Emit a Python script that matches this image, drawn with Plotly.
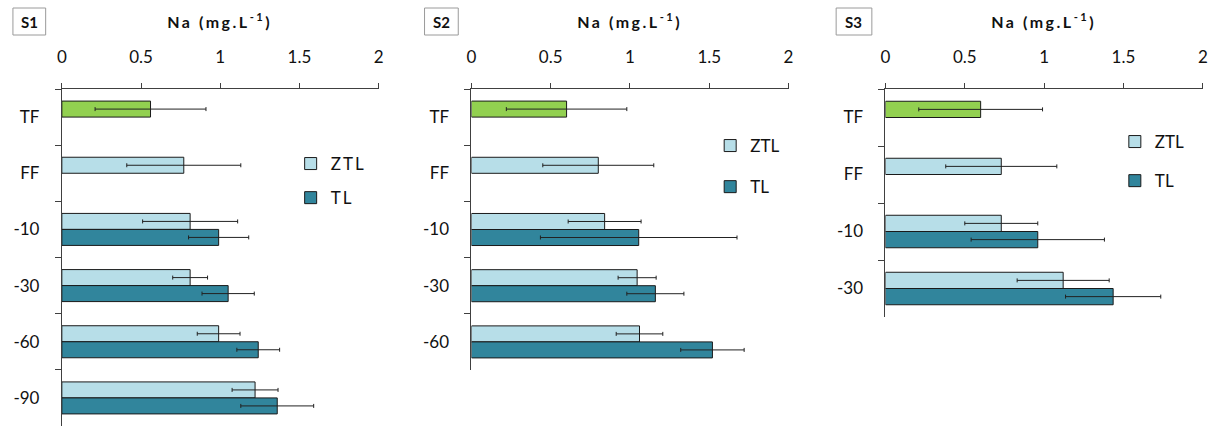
import plotly.graph_objects as go

W, H = 1222, 428

# ---------------- data ----------------
cats1 = ["TF", "FF", "-10", "-30", "-60", "-90"]
cats2 = ["TF", "FF", "-10", "-30", "-60"]
cats3 = ["TF", "FF", "-10", "-30"]

# S1
s1_tf = [0.56]
s1_tf_err = [0.35]
s1_ztl = [0.77, 0.81, 0.81, 0.99, 1.22]          # FF, -10, -30, -60, -90
s1_ztl_err = [0.36, 0.30, 0.11, 0.135, 0.145]
s1_tl = [0.99, 1.05, 1.24, 1.36]                  # -10, -30, -60, -90
s1_tl_err = [0.19, 0.165, 0.135, 0.23]

# S2
s2_tf = [0.60]
s2_tf_err = [0.38]
s2_ztl = [0.80, 0.84, 1.045, 1.06]                # FF, -10, -30, -60
s2_ztl_err = [0.35, 0.23, 0.12, 0.147]
s2_tl = [1.055, 1.16, 1.52]                       # -10, -30, -60
s2_tl_err = [0.62, 0.18, 0.20]

# S3
s3_tf = [0.60]
s3_tf_err = [0.39]
s3_ztl = [0.73, 0.73, 1.12]                       # FF, -10, -30
s3_ztl_err = [0.35, 0.23, 0.29]
s3_tl = [0.96, 1.435]                             # -10, -30
s3_tl_err = [0.42, 0.30]

panel_names = ["S1", "S2", "S3"]
x_ticks = [0, 0.5, 1, 1.5, 2]
x_title = "<b>Na (mg.L<sup>-1</sup>)</b>"

# ---------------- styling ----------------
GREEN = "#92D050"
ZTL_C = "#B7DEE8"
TL_C = "#31859C"
OUT = "#1a1a1a"
FONT = "Lato"


def px_x(p):
    return p / W


def px_y(p):
    return 1 - p / H


panels = [
    dict(cats=cats1, tf=s1_tf, tfe=s1_tf_err, ztl=s1_ztl, ztle=s1_ztl_err, tl=s1_tl, tle=s1_tl_err,
         x0=57.3, x1=376.7, ybot=426, box=(8, 41), leg=(288, 146), gap=9),
    dict(cats=cats2, tf=s2_tf, tfe=s2_tf_err, ztl=s2_ztl, ztle=s2_ztl_err, tl=s2_tl, tle=s2_tl_err,
         x0=470.3, x1=790.0, ybot=370, box=(423, 457), leg=(711, 128), gap=16),
    dict(cats=cats3, tf=s3_tf, tfe=s3_tf_err, ztl=s3_ztl, ztle=s3_ztl_err, tl=s3_tl, tle=s3_tl_err,
         x0=887.7, x1=1207.7, ybot=317, box=(838, 874), leg=(1119, 124), gap=14),
]

fig = go.Figure()
annotations = []
shapes = []
layout_axes = {}

for i, p in enumerate(panels):
    n = "" if i == 0 else str(i + 1)
    xa, ya = "x" + n, "y" + n
    legname = "legend" + n
    cats = p["cats"]

    def err(v):
        return dict(type="data", array=v, visible=True, color="#222222", thickness=1, width=2)

    fig.add_trace(go.Bar(
        y=cats[:1], x=p["tf"], orientation="h", xaxis=xa, yaxis=ya,
        marker=dict(color=GREEN, line=dict(color=OUT, width=1)),
        error_x=err(p["tfe"]), offsetgroup="a", showlegend=False, name="TF",
    ))
    fig.add_trace(go.Bar(
        y=cats[1:], x=p["ztl"], orientation="h", xaxis=xa, yaxis=ya,
        marker=dict(color=ZTL_C, line=dict(color=OUT, width=1)),
        error_x=err(p["ztle"]), offsetgroup="a", name="ZTL",
        legend=legname, legendgroup="z" + n, showlegend=True,
    ))
    fig.add_trace(go.Bar(
        y=cats[2:], x=p["tl"], orientation="h", xaxis=xa, yaxis=ya,
        marker=dict(color=TL_C, line=dict(color=OUT, width=1)),
        error_x=err(p["tle"]), offsetgroup="b", name="TL",
        legend=legname, legendgroup="t" + n, showlegend=True,
    ))

    layout_axes["xaxis" + n] = dict(
        domain=[px_x(p["x0"]), px_x(p["x1"])], range=[0, 2], side="top", anchor=ya,
        tickvals=x_ticks, ticks="outside", ticklen=5, tickcolor="#404040",
        showline=True, linecolor="#404040", linewidth=1, showgrid=False, zeroline=False,
        tickfont=dict(family=FONT, size=17, color="#111111"), ticklabelstandoff=13,
        fixedrange=True,
    )
    layout_axes["yaxis" + n] = dict(
        domain=[px_y(p["ybot"]), px_y(89)], anchor=xa, type="category",
        categoryorder="array", categoryarray=cats, autorange="reversed",
        tickson="boundaries", ticks="outside", ticklen=6, tickcolor="#404040",
        showline=True, linecolor="#404040", linewidth=1, showgrid=False, zeroline=False,
        tickfont=dict(family=FONT, size=17, color="#111111"), ticklabelstandoff=18,
        fixedrange=True,
    )
    layout_axes[legname] = dict(
        x=px_x(p["leg"][0]), y=px_y(p["leg"][1]), xanchor="left", yanchor="top",
        bgcolor="rgba(0,0,0,0)", borderwidth=0, traceorder="grouped",
        tracegroupgap=p["gap"], font=dict(family=FONT, size=17, color="#111111"),
    )

    # title
    annotations.append(dict(
        x=px_x((p["x0"] + p["x1"]) / 2), y=px_y(20), xref="paper", yref="paper",
        text=x_title, showarrow=False, xanchor="center", yanchor="middle",
        font=dict(family=FONT, size=16, color="#111111"),
    ))
    # panel label box
    bx0, bx1 = p["box"]
    shapes.append(dict(
        type="rect", xref="paper", yref="paper",
        x0=px_x(bx0), x1=px_x(bx1), y0=px_y(35), y1=px_y(8),
        line=dict(color="#9a9a9a", width=1), fillcolor="white",
    ))
    annotations.append(dict(
        x=px_x((bx0 + bx1) / 2), y=px_y(22), xref="paper", yref="paper",
        text="<b>" + panel_names[i] + "</b>", showarrow=False,
        xanchor="center", yanchor="middle",
        font=dict(family=FONT, size=15, color="#111111"),
    ))

fig.update_layout(
    width=W, height=H, margin=dict(l=0, r=0, t=0, b=0),
    paper_bgcolor="white", plot_bgcolor="white",
    barmode="group", bargap=0.43, bargroupgap=0,
    annotations=annotations, shapes=shapes,
    font=dict(family=FONT, size=16, color="#111111"),
    **layout_axes,
)

post = """
document.body.style.margin='0';
document.body.style.overflow='hidden';
document.querySelectorAll('.annotation-text').forEach(function(e){
  if (e.textContent.indexOf('Na') === 0) { e.style.letterSpacing = '2.5px'; }
});
document.querySelectorAll('.legendtext').forEach(function(e){ e.style.letterSpacing = '2px'; });
"""

fig.write_html("out.html", config={"displayModeBar": False}, post_script=post)
